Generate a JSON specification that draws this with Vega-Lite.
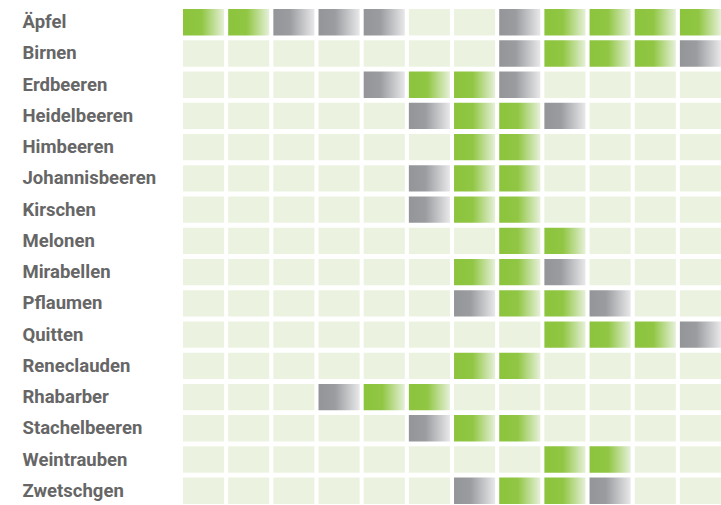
{
  "$schema": "https://vega.github.io/schema/vega-lite/v6.json",
  "autosize": "none",
  "width": 538,
  "height": 495,
  "padding": {"left": 183, "top": 9, "right": 0, "bottom": 1},
  "background": "#ffffff",
  "config": {"view": {"stroke": null}},
  "data": {"values": [
    {"Frucht":"Äpfel","Monat":1,"Status":"Saison"},{"Frucht":"Äpfel","Monat":2,"Status":"Saison"},{"Frucht":"Äpfel","Monat":3,"Status":"Lager"},{"Frucht":"Äpfel","Monat":4,"Status":"Lager"},{"Frucht":"Äpfel","Monat":5,"Status":"Lager"},{"Frucht":"Äpfel","Monat":6,"Status":"leer"},{"Frucht":"Äpfel","Monat":7,"Status":"leer"},{"Frucht":"Äpfel","Monat":8,"Status":"Lager"},{"Frucht":"Äpfel","Monat":9,"Status":"Saison"},{"Frucht":"Äpfel","Monat":10,"Status":"Saison"},{"Frucht":"Äpfel","Monat":11,"Status":"Saison"},{"Frucht":"Äpfel","Monat":12,"Status":"Saison"},
    {"Frucht":"Birnen","Monat":1,"Status":"leer"},{"Frucht":"Birnen","Monat":2,"Status":"leer"},{"Frucht":"Birnen","Monat":3,"Status":"leer"},{"Frucht":"Birnen","Monat":4,"Status":"leer"},{"Frucht":"Birnen","Monat":5,"Status":"leer"},{"Frucht":"Birnen","Monat":6,"Status":"leer"},{"Frucht":"Birnen","Monat":7,"Status":"leer"},{"Frucht":"Birnen","Monat":8,"Status":"Lager"},{"Frucht":"Birnen","Monat":9,"Status":"Saison"},{"Frucht":"Birnen","Monat":10,"Status":"Saison"},{"Frucht":"Birnen","Monat":11,"Status":"Saison"},{"Frucht":"Birnen","Monat":12,"Status":"Lager"},
    {"Frucht":"Erdbeeren","Monat":1,"Status":"leer"},{"Frucht":"Erdbeeren","Monat":2,"Status":"leer"},{"Frucht":"Erdbeeren","Monat":3,"Status":"leer"},{"Frucht":"Erdbeeren","Monat":4,"Status":"leer"},{"Frucht":"Erdbeeren","Monat":5,"Status":"Lager"},{"Frucht":"Erdbeeren","Monat":6,"Status":"Saison"},{"Frucht":"Erdbeeren","Monat":7,"Status":"Saison"},{"Frucht":"Erdbeeren","Monat":8,"Status":"Lager"},{"Frucht":"Erdbeeren","Monat":9,"Status":"leer"},{"Frucht":"Erdbeeren","Monat":10,"Status":"leer"},{"Frucht":"Erdbeeren","Monat":11,"Status":"leer"},{"Frucht":"Erdbeeren","Monat":12,"Status":"leer"},
    {"Frucht":"Heidelbeeren","Monat":1,"Status":"leer"},{"Frucht":"Heidelbeeren","Monat":2,"Status":"leer"},{"Frucht":"Heidelbeeren","Monat":3,"Status":"leer"},{"Frucht":"Heidelbeeren","Monat":4,"Status":"leer"},{"Frucht":"Heidelbeeren","Monat":5,"Status":"leer"},{"Frucht":"Heidelbeeren","Monat":6,"Status":"Lager"},{"Frucht":"Heidelbeeren","Monat":7,"Status":"Saison"},{"Frucht":"Heidelbeeren","Monat":8,"Status":"Saison"},{"Frucht":"Heidelbeeren","Monat":9,"Status":"Lager"},{"Frucht":"Heidelbeeren","Monat":10,"Status":"leer"},{"Frucht":"Heidelbeeren","Monat":11,"Status":"leer"},{"Frucht":"Heidelbeeren","Monat":12,"Status":"leer"},
    {"Frucht":"Himbeeren","Monat":1,"Status":"leer"},{"Frucht":"Himbeeren","Monat":2,"Status":"leer"},{"Frucht":"Himbeeren","Monat":3,"Status":"leer"},{"Frucht":"Himbeeren","Monat":4,"Status":"leer"},{"Frucht":"Himbeeren","Monat":5,"Status":"leer"},{"Frucht":"Himbeeren","Monat":6,"Status":"leer"},{"Frucht":"Himbeeren","Monat":7,"Status":"Saison"},{"Frucht":"Himbeeren","Monat":8,"Status":"Saison"},{"Frucht":"Himbeeren","Monat":9,"Status":"leer"},{"Frucht":"Himbeeren","Monat":10,"Status":"leer"},{"Frucht":"Himbeeren","Monat":11,"Status":"leer"},{"Frucht":"Himbeeren","Monat":12,"Status":"leer"},
    {"Frucht":"Johannisbeeren","Monat":1,"Status":"leer"},{"Frucht":"Johannisbeeren","Monat":2,"Status":"leer"},{"Frucht":"Johannisbeeren","Monat":3,"Status":"leer"},{"Frucht":"Johannisbeeren","Monat":4,"Status":"leer"},{"Frucht":"Johannisbeeren","Monat":5,"Status":"leer"},{"Frucht":"Johannisbeeren","Monat":6,"Status":"Lager"},{"Frucht":"Johannisbeeren","Monat":7,"Status":"Saison"},{"Frucht":"Johannisbeeren","Monat":8,"Status":"Saison"},{"Frucht":"Johannisbeeren","Monat":9,"Status":"leer"},{"Frucht":"Johannisbeeren","Monat":10,"Status":"leer"},{"Frucht":"Johannisbeeren","Monat":11,"Status":"leer"},{"Frucht":"Johannisbeeren","Monat":12,"Status":"leer"},
    {"Frucht":"Kirschen","Monat":1,"Status":"leer"},{"Frucht":"Kirschen","Monat":2,"Status":"leer"},{"Frucht":"Kirschen","Monat":3,"Status":"leer"},{"Frucht":"Kirschen","Monat":4,"Status":"leer"},{"Frucht":"Kirschen","Monat":5,"Status":"leer"},{"Frucht":"Kirschen","Monat":6,"Status":"Lager"},{"Frucht":"Kirschen","Monat":7,"Status":"Saison"},{"Frucht":"Kirschen","Monat":8,"Status":"Saison"},{"Frucht":"Kirschen","Monat":9,"Status":"leer"},{"Frucht":"Kirschen","Monat":10,"Status":"leer"},{"Frucht":"Kirschen","Monat":11,"Status":"leer"},{"Frucht":"Kirschen","Monat":12,"Status":"leer"},
    {"Frucht":"Melonen","Monat":1,"Status":"leer"},{"Frucht":"Melonen","Monat":2,"Status":"leer"},{"Frucht":"Melonen","Monat":3,"Status":"leer"},{"Frucht":"Melonen","Monat":4,"Status":"leer"},{"Frucht":"Melonen","Monat":5,"Status":"leer"},{"Frucht":"Melonen","Monat":6,"Status":"leer"},{"Frucht":"Melonen","Monat":7,"Status":"leer"},{"Frucht":"Melonen","Monat":8,"Status":"Saison"},{"Frucht":"Melonen","Monat":9,"Status":"Saison"},{"Frucht":"Melonen","Monat":10,"Status":"leer"},{"Frucht":"Melonen","Monat":11,"Status":"leer"},{"Frucht":"Melonen","Monat":12,"Status":"leer"},
    {"Frucht":"Mirabellen","Monat":1,"Status":"leer"},{"Frucht":"Mirabellen","Monat":2,"Status":"leer"},{"Frucht":"Mirabellen","Monat":3,"Status":"leer"},{"Frucht":"Mirabellen","Monat":4,"Status":"leer"},{"Frucht":"Mirabellen","Monat":5,"Status":"leer"},{"Frucht":"Mirabellen","Monat":6,"Status":"leer"},{"Frucht":"Mirabellen","Monat":7,"Status":"Saison"},{"Frucht":"Mirabellen","Monat":8,"Status":"Saison"},{"Frucht":"Mirabellen","Monat":9,"Status":"Lager"},{"Frucht":"Mirabellen","Monat":10,"Status":"leer"},{"Frucht":"Mirabellen","Monat":11,"Status":"leer"},{"Frucht":"Mirabellen","Monat":12,"Status":"leer"},
    {"Frucht":"Pflaumen","Monat":1,"Status":"leer"},{"Frucht":"Pflaumen","Monat":2,"Status":"leer"},{"Frucht":"Pflaumen","Monat":3,"Status":"leer"},{"Frucht":"Pflaumen","Monat":4,"Status":"leer"},{"Frucht":"Pflaumen","Monat":5,"Status":"leer"},{"Frucht":"Pflaumen","Monat":6,"Status":"leer"},{"Frucht":"Pflaumen","Monat":7,"Status":"Lager"},{"Frucht":"Pflaumen","Monat":8,"Status":"Saison"},{"Frucht":"Pflaumen","Monat":9,"Status":"Saison"},{"Frucht":"Pflaumen","Monat":10,"Status":"Lager"},{"Frucht":"Pflaumen","Monat":11,"Status":"leer"},{"Frucht":"Pflaumen","Monat":12,"Status":"leer"},
    {"Frucht":"Quitten","Monat":1,"Status":"leer"},{"Frucht":"Quitten","Monat":2,"Status":"leer"},{"Frucht":"Quitten","Monat":3,"Status":"leer"},{"Frucht":"Quitten","Monat":4,"Status":"leer"},{"Frucht":"Quitten","Monat":5,"Status":"leer"},{"Frucht":"Quitten","Monat":6,"Status":"leer"},{"Frucht":"Quitten","Monat":7,"Status":"leer"},{"Frucht":"Quitten","Monat":8,"Status":"leer"},{"Frucht":"Quitten","Monat":9,"Status":"Saison"},{"Frucht":"Quitten","Monat":10,"Status":"Saison"},{"Frucht":"Quitten","Monat":11,"Status":"Saison"},{"Frucht":"Quitten","Monat":12,"Status":"Lager"},
    {"Frucht":"Reneclauden","Monat":1,"Status":"leer"},{"Frucht":"Reneclauden","Monat":2,"Status":"leer"},{"Frucht":"Reneclauden","Monat":3,"Status":"leer"},{"Frucht":"Reneclauden","Monat":4,"Status":"leer"},{"Frucht":"Reneclauden","Monat":5,"Status":"leer"},{"Frucht":"Reneclauden","Monat":6,"Status":"leer"},{"Frucht":"Reneclauden","Monat":7,"Status":"Saison"},{"Frucht":"Reneclauden","Monat":8,"Status":"Saison"},{"Frucht":"Reneclauden","Monat":9,"Status":"leer"},{"Frucht":"Reneclauden","Monat":10,"Status":"leer"},{"Frucht":"Reneclauden","Monat":11,"Status":"leer"},{"Frucht":"Reneclauden","Monat":12,"Status":"leer"},
    {"Frucht":"Rhabarber","Monat":1,"Status":"leer"},{"Frucht":"Rhabarber","Monat":2,"Status":"leer"},{"Frucht":"Rhabarber","Monat":3,"Status":"leer"},{"Frucht":"Rhabarber","Monat":4,"Status":"Lager"},{"Frucht":"Rhabarber","Monat":5,"Status":"Saison"},{"Frucht":"Rhabarber","Monat":6,"Status":"Saison"},{"Frucht":"Rhabarber","Monat":7,"Status":"leer"},{"Frucht":"Rhabarber","Monat":8,"Status":"leer"},{"Frucht":"Rhabarber","Monat":9,"Status":"leer"},{"Frucht":"Rhabarber","Monat":10,"Status":"leer"},{"Frucht":"Rhabarber","Monat":11,"Status":"leer"},{"Frucht":"Rhabarber","Monat":12,"Status":"leer"},
    {"Frucht":"Stachelbeeren","Monat":1,"Status":"leer"},{"Frucht":"Stachelbeeren","Monat":2,"Status":"leer"},{"Frucht":"Stachelbeeren","Monat":3,"Status":"leer"},{"Frucht":"Stachelbeeren","Monat":4,"Status":"leer"},{"Frucht":"Stachelbeeren","Monat":5,"Status":"leer"},{"Frucht":"Stachelbeeren","Monat":6,"Status":"Lager"},{"Frucht":"Stachelbeeren","Monat":7,"Status":"Saison"},{"Frucht":"Stachelbeeren","Monat":8,"Status":"Saison"},{"Frucht":"Stachelbeeren","Monat":9,"Status":"leer"},{"Frucht":"Stachelbeeren","Monat":10,"Status":"leer"},{"Frucht":"Stachelbeeren","Monat":11,"Status":"leer"},{"Frucht":"Stachelbeeren","Monat":12,"Status":"leer"},
    {"Frucht":"Weintrauben","Monat":1,"Status":"leer"},{"Frucht":"Weintrauben","Monat":2,"Status":"leer"},{"Frucht":"Weintrauben","Monat":3,"Status":"leer"},{"Frucht":"Weintrauben","Monat":4,"Status":"leer"},{"Frucht":"Weintrauben","Monat":5,"Status":"leer"},{"Frucht":"Weintrauben","Monat":6,"Status":"leer"},{"Frucht":"Weintrauben","Monat":7,"Status":"leer"},{"Frucht":"Weintrauben","Monat":8,"Status":"leer"},{"Frucht":"Weintrauben","Monat":9,"Status":"Saison"},{"Frucht":"Weintrauben","Monat":10,"Status":"Saison"},{"Frucht":"Weintrauben","Monat":11,"Status":"leer"},{"Frucht":"Weintrauben","Monat":12,"Status":"leer"},
    {"Frucht":"Zwetschgen","Monat":1,"Status":"leer"},{"Frucht":"Zwetschgen","Monat":2,"Status":"leer"},{"Frucht":"Zwetschgen","Monat":3,"Status":"leer"},{"Frucht":"Zwetschgen","Monat":4,"Status":"leer"},{"Frucht":"Zwetschgen","Monat":5,"Status":"leer"},{"Frucht":"Zwetschgen","Monat":6,"Status":"leer"},{"Frucht":"Zwetschgen","Monat":7,"Status":"Lager"},{"Frucht":"Zwetschgen","Monat":8,"Status":"Saison"},{"Frucht":"Zwetschgen","Monat":9,"Status":"Saison"},{"Frucht":"Zwetschgen","Monat":10,"Status":"Lager"},{"Frucht":"Zwetschgen","Monat":11,"Status":"leer"},{"Frucht":"Zwetschgen","Monat":12,"Status":"leer"}
  ]},
  "encoding": {
    "x": {"field": "Monat", "type": "ordinal", "axis": null,
          "scale": {"paddingInner": 0.09, "paddingOuter": 0}},
    "y": {"field": "Frucht", "type": "nominal", "sort": null,
          "scale": {"paddingInner": 0.155, "paddingOuter": 0},
          "axis": {"title": null, "domain": false, "ticks": false,
                   "labelAlign": "left", "labelPadding": 161,
                   "labelFont": "Roboto", "labelFontSize": 18.5,
                   "labelFontWeight": "bold", "labelColor": "#666666"}}
  },
  "layer": [
    {"transform": [{"filter": "datum.Status === 'leer'"}],
     "mark": {"type": "rect", "color": "#ebf3e0"}},
    {"transform": [{"filter": "datum.Status === 'Saison'"}],
     "mark": {"type": "rect", "color": {"gradient": "linear", "x1": 0, "y1": 0, "x2": 1, "y2": 0,
       "stops": [{"offset": 0, "color": "#8cc43d"}, {"offset": 0.45, "color": "#90c643"}, {"offset": 1, "color": "#e6f0d9"}]}}},
    {"transform": [{"filter": "datum.Status === 'Lager'"}],
     "mark": {"type": "rect", "color": {"gradient": "linear", "x1": 0, "y1": 0, "x2": 1, "y2": 0,
       "stops": [{"offset": 0, "color": "#939598"}, {"offset": 0.4, "color": "#9a9c9f"}, {"offset": 1, "color": "#e8e8ea"}]}}}
  ]
}
